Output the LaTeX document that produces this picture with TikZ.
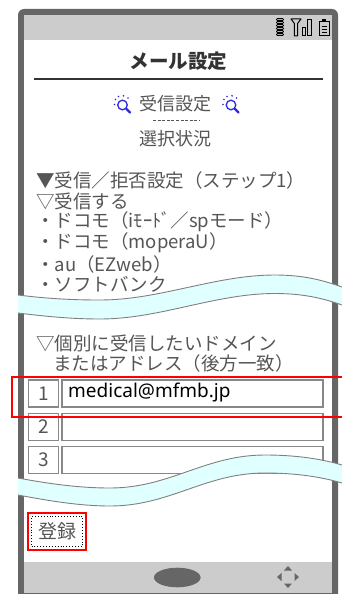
\documentclass[tikz,border=0pt]{standalone}
\usepackage{fontspec}
\newfontfamily\jp{Noto Sans CJK JP}
\newfontfamily\lat{Noto Sans}
\definecolor{framecol}{HTML}{666666}
\definecolor{barcol}{HTML}{CCCCCC}
\definecolor{txtcol}{HTML}{555555}
\definecolor{titlecol}{HTML}{333333}
\definecolor{bandfill}{HTML}{E0FFFF}
\definecolor{bandline}{HTML}{808080}
\definecolor{boxcol}{HTML}{888888}
\definecolor{iconblue}{HTML}{2B2BE0}
\definecolor{hired}{HTML}{FF0000}
\tikzset{
  jptext/.style={font=\jp\fontsize{18.5}{18.5}\selectfont, text=txtcol, inner sep=0pt},
  listline/.style={jptext, anchor=west},
  headtext/.style={font=\jp\fontsize{18}{18}\selectfont, text=txtcol, inner sep=0pt},
  numbox/.style={draw=boxcol, line width=1.5pt, minimum width=30pt, minimum height=27pt, inner sep=0pt,
                 font=\jp\fontsize{19}{19}\selectfont, text=txtcol},
  fieldbox/.style={draw=boxcol, line width=1.5pt, minimum width=261pt, minimum height=27pt, inner sep=0pt},
  bandedge/.style={draw=bandline, line width=0.9pt},
  tri/.style={fill=framecol},
}
\begin{document}
\begin{tikzpicture}[x=1pt,y=-1pt]
\useasboundingbox (0,0) rectangle (342,594);
% phone frame
\fill[framecol, rounded corners=6pt] (18,9) rectangle (338,605);
\fill[white] (24,15) rectangle (332,593);
\fill[barcol] (24,15) rectangle (332,40);
\fill[barcol] (24,562) rectangle (332,593);
% status icons
\foreach \k in {0,...,5}
  \draw[black, line width=0.8pt, rounded corners=0.8pt] (276.5,18.6+\k*3) rectangle (283.5,20.4+\k*3);
\draw[black, line width=1pt, line join=round] (291,19) -- (301,19) -- (297.6,23.5) -- (297.6,36) -- (294.4,36) -- (294.4,23.5) -- cycle;
\draw[black, line width=1pt] (302.5,28) rectangle (305.5,36);
\draw[black, line width=1pt] (307.5,19.5) rectangle (311.5,36);
\draw[black, line width=1pt] (319,21.5) rectangle (329,36);
\fill[black] (322,19) rectangle (326,21.5);
\foreach \yy in {26,29,32} \draw[black, line width=0.9pt] (321.5,\yy) -- (326.5,\yy);
% title
\node[font=\jp\bfseries\fontsize{19.5}{19.5}\selectfont, text=titlecol, inner sep=0pt] (title) at (178.5,61) {メール設定};
\coordinate (ruleL) at (34,79);
\coordinate (ruleR) at (323,79);
\draw[titlecol, line width=1.5pt] (ruleL) -- (ruleR);
% subtitle with icons
\node[headtext] (sub) at (175.5,104) {受信設定};
\foreach \dx/\nm in {0/iconL,108.5/iconR}{
  \begin{scope}[xshift=\dx pt]
    \draw[iconblue, line width=1.3pt] (122.5,105) circle (4.8pt);
    \draw[iconblue, line width=2.4pt, line cap=round] (126.2,108.7) -- (130,112.5);
    \foreach \px/\py in {115.5/99.5,114.5/104.5,118.5/96.5,123.5/95.8,128/98}
      \fill[iconblue] (\px,\py) circle (0.95pt);
  \end{scope}
}
\coordinate (dashL) at (153,120);
\coordinate (dashR) at (200,120);
\draw[txtcol, line width=1pt, dash pattern=on 3pt off 1.6pt] (dashL) -- (dashR);
\node[headtext] (sel) at (175,139) {選択状況};
% list
\node[listline] (l1) at (36,180.5) {▼受信／拒否設定（ステップ1）};
\node[listline] (l2) at (36,201) {▽受信する};
\node[listline] (l3) at (36,222) {・ドコモ（iﾓｰﾄﾞ／spモード）};
\node[listline] (l4) at (36,243) {・ドコモ（moperaU）};
\node[listline] (l5) at (36,264) {・au（EZweb）};
\node[listline] (l6) at (36,284) {・ソフトバンク};
\node[listline] (m1) at (36,343) {▽個別に受信したいドメイン};
\node[listline] (m2) at (53,363) {またはアドレス（後方一致）};
% rows
\node[numbox] (n1) at (43.3,393.5) {1};
\node[fieldbox] (f1) at (192.5,393.5) {};
\node[numbox] (n2) at (43.3,427) {2};
\node[fieldbox] (f2) at (192.5,427) {};
\node[numbox] (n3) at (43.3,460) {3};
\node[fieldbox] (f3) at (192.5,460) {};
\node[font=\lat\fontsize{19}{19}\selectfont, text=black, anchor=west, inner sep=0pt] (mail) at (68,393) {medical@mfmb.jp};
\draw[hired, line width=2pt] (12,377) rectangle (350,417);
% band 1
\fill[bandfill] (18,295) .. controls (50,299) and (75,300) .. (100,300) .. controls (160,300) and (215,275) .. (275,275) .. controls (305,275) and (325,281) .. (342,287)
  -- (342,305) .. controls (325,299) and (305,293.5) .. (275,293.5) .. controls (215,293.5) and (160,319) .. (100,319) .. controls (75,319) and (50,317) .. (18,313) -- cycle;
\draw[bandedge] (18,295) .. controls (50,299) and (75,300) .. (100,300) .. controls (160,300) and (215,275) .. (275,275) .. controls (305,275) and (325,281) .. (342,287);
\draw[bandedge] (342,305) .. controls (325,299) and (305,293.5) .. (275,293.5) .. controls (215,293.5) and (160,319) .. (100,319) .. controls (75,319) and (50,317) .. (18,313);
% band 2
\fill[bandfill] (18,478) .. controls (50,484) and (80,488) .. (110,488) .. controls (170,488) and (205,455) .. (265,455) .. controls (300,455) and (325,460) .. (342,465)
  -- (342,483) .. controls (325,478) and (300,473) .. (265,473) .. controls (205,473) and (170,506) .. (110,506) .. controls (80,506) and (50,501) .. (18,495) -- cycle;
\draw[bandedge] (18,478) .. controls (50,484) and (80,488) .. (110,488) .. controls (170,488) and (205,455) .. (265,455) .. controls (300,455) and (325,460) .. (342,465);
\draw[bandedge] (342,483) .. controls (325,478) and (300,473) .. (265,473) .. controls (205,473) and (170,506) .. (110,506) .. controls (80,506) and (50,501) .. (18,495);
% register button
\node[draw=hired, line width=1.5pt, minimum width=58pt, minimum height=37pt, inner sep=0pt] (btnred) at (57,531.5) {};
\node[draw=black, dotted, line width=0.9pt, minimum width=51pt, minimum height=30pt, inner sep=0pt,
      font=\jp\fontsize{19}{19}\selectfont, text=txtcol] (btn) at (57,531.5) {登録};
% bottom bar controls
\fill[framecol] (177.3,577.5) ellipse (23.3pt and 9.8pt);
\fill[tri] (284,570.5) -- (292,570.5) -- (288,566) -- cycle;
\fill[tri] (284,583.5) -- (292,583.5) -- (288,588) -- cycle;
\fill[tri] (281.5,573) -- (281.5,581) -- (277,577) -- cycle;
\fill[tri] (294.5,573) -- (294.5,581) -- (299,577) -- cycle;
\end{tikzpicture}
\end{document}
